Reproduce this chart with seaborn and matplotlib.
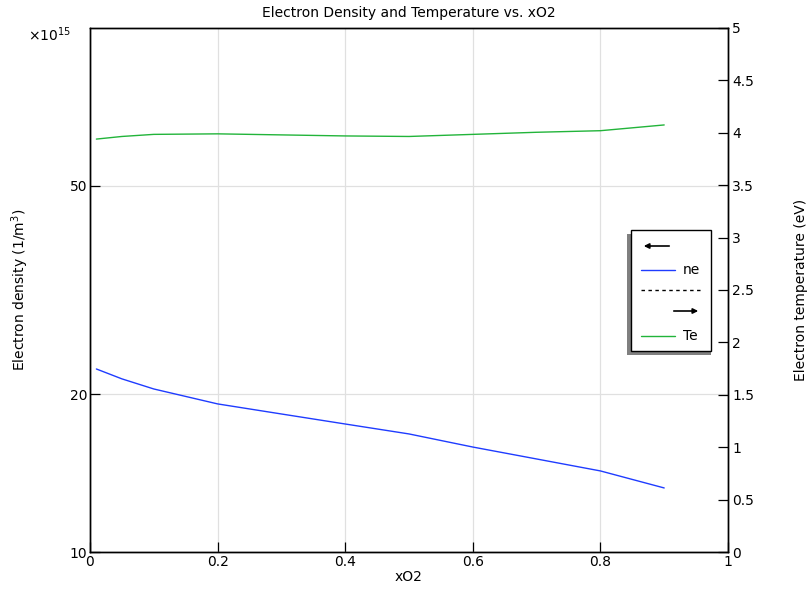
import matplotlib
matplotlib.use("Agg")
import matplotlib.pyplot as plt
from matplotlib.patches import Rectangle, FancyArrowPatch
from matplotlib.lines import Line2D
import seaborn as sns
import pandas as pd

xO2 = [0.01, 0.05, 0.1, 0.2, 0.3, 0.4, 0.5, 0.6, 0.7, 0.8, 0.9]
ne = [22.35, 21.4, 20.47, 19.17, 18.34, 17.55, 16.80, 15.86, 15.05, 14.28, 13.25]  # x1e15 1/m^3
Te = [3.94, 3.965, 3.985, 3.99, 3.98, 3.97, 3.965, 3.985, 4.005, 4.02, 4.075]
left_ticks = [10, 20, 50]
right_ticks = [0, 0.5, 1, 1.5, 2, 2.5, 3, 3.5, 4, 4.5, 5]
x_ticks = [0, 0.2, 0.4, 0.6, 0.8, 1]

sns.set_style("white")
plt.rcParams['font.family'] = ['DejaVu Sans']
plt.rcParams['text.color'] = 'black'
plt.rcParams['axes.labelcolor'] = 'black'
plt.rcParams['xtick.color'] = 'black'
plt.rcParams['ytick.color'] = 'black'

W, H = 808, 595
fig = plt.figure(figsize=(W / 100, H / 100), dpi=100)
ax = fig.add_axes([90 / W, (H - 552) / H, (728 - 90) / W, (552 - 28) / H])

df = pd.DataFrame({"xO2": xO2, "ne": ne, "Te": Te})
blue = '#1f3cff'
green = '#22b43a'

sns.lineplot(data=df, x="xO2", y="ne", ax=ax, color=blue, lw=1.0)
ax.set_yscale('log')
ax.set_ylim(10, 100)
ax.set_xlim(0, 1)
ax.set_yticks(left_ticks)
ax.set_yticklabels([str(t) for t in left_ticks])
ax.yaxis.set_minor_locator(matplotlib.ticker.NullLocator())
ax.set_xticks(x_ticks)
ax.set_xticklabels(['0', '0.2', '0.4', '0.6', '0.8', '1'])
ax.grid(True, color='#e0e0e0', lw=0.9)
ax.set_axisbelow(True)
ax.set_xlabel('xO2', fontsize=10, labelpad=1, color='black')
ax.set_ylabel('Electron density (1/m$^3$)', fontsize=10, labelpad=28, color='black')
ax.tick_params(axis='both', direction='in', length=7, labelsize=10, width=0.9,
               color='black', labelcolor='black', bottom=True, left=True, top=False, right=False, pad=2)
ax.set_title('Electron Density and Temperature vs. xO2', fontsize=10, pad=8, color='black')

ax2 = ax.twinx()
sns.lineplot(data=df, x="xO2", y="Te", ax=ax2, color=green, lw=1.0)
ax2.set_ylim(0, 5)
ax2.set_yticks(right_ticks)
ax2.set_yticklabels(['0', '0.5', '1', '1.5', '2', '2.5', '3', '3.5', '4', '4.5', '5'])
ax2.set_ylabel('Electron temperature (eV)', fontsize=10, labelpad=29, color='black')
ax2.tick_params(axis='y', direction='in', length=7, labelsize=10, width=0.9,
                color='black', labelcolor='black', right=True, left=False, pad=3)
ax2.set_xlim(0, 1)
for a in (ax, ax2):
    for s in a.spines.values():
        s.set_color('black')
        s.set_linewidth(1.0)

fig.text(28 / W, 1 - 35 / H, r'$\times$10$^{15}$', fontsize=10, va='center', ha='left')

# Legend drawn manually in figure pixel coordinates
def fx(px):
    return px / W

def fy(py):
    return 1 - py / H

shadow = Rectangle((fx(627), fy(355)), fx(711) - fx(627), fy(234) - fy(355),
                   transform=fig.transFigure, facecolor='#808080', edgecolor='none', zorder=10)
fig.patches.append(shadow)
box = Rectangle((fx(631), fy(351)), fx(711) - fx(631), fy(230) - fy(351),
                transform=fig.transFigure, facecolor='white', edgecolor='black', lw=1.0, zorder=11)
fig.patches.append(box)

arr1 = FancyArrowPatch((fx(672), fy(246)), (fx(641), fy(246)), transform=fig.transFigure,
                       arrowstyle='-|>,head_length=3,head_width=1.5', color='black', lw=1.2, zorder=12)
fig.patches.append(arr1)
fig.lines.append(Line2D([fx(641), fx(675)], [fy(270), fy(270)], transform=fig.transFigure,
                        color=blue, lw=1.0, zorder=12))
fig.text(fx(683), fy(270), 'ne', fontsize=10, va='center', ha='left', zorder=12)
fig.lines.append(Line2D([fx(641), fx(702)], [fy(290), fy(290)], transform=fig.transFigure,
                        color='black', lw=1.0, ls=(0, (2.5, 2.5)), zorder=12))
arr2 = FancyArrowPatch((fx(671), fy(311)), (fx(701), fy(311)), transform=fig.transFigure,
                       arrowstyle='-|>,head_length=3,head_width=1.5', color='black', lw=1.2, zorder=12)
fig.patches.append(arr2)
fig.lines.append(Line2D([fx(641), fx(675)], [fy(336), fy(336)], transform=fig.transFigure,
                        color=green, lw=1.0, zorder=12))
fig.text(fx(683), fy(336), 'Te', fontsize=10, va='center', ha='left', zorder=12)

fig.savefig('out.png', dpi=100)
